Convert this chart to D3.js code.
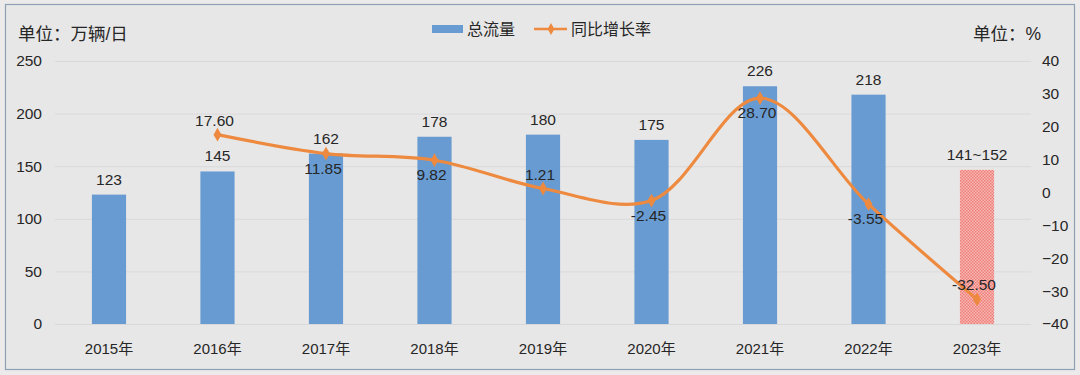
<!DOCTYPE html>
<html>
<head>
<meta charset="utf-8">
<script src="https://cdn.jsdelivr.net/npm/d3@7"></script>
<style>
  body { margin: 0; background: #eceaea; }
  text { font-family: "Liberation Sans", Arial, "Noto Sans CJK SC", sans-serif; fill: #262626; }
</style>
</head>
<body>
<script>
var years = ['2015年', '2016年', '2017年', '2018年', '2019年', '2020年', '2021年', '2022年', '2023年']
var flow = [123, 145, 162, 178, 180, 175, 226, 218, 146.5]
var flowLabels = ['123', '145', '162', '178', '180', '175', '226', '218', '141~152']
var growth = [null, 17.60, 11.85, 9.82, 1.21, -2.45, 28.70, -3.55, -32.50]
// label above (-1) or below (+1) the point
var growthPos = [0, -1, 1, 1, -1, 1, 1, 1, -1]
var leftTicks = [0, 50, 100, 150, 200, 250]
var rightTicks = [-40, -30, -20, -10, 0, 10, 20, 30, 40]

var W = 1080, H = 375
var plot = {left: 55, right: 1031, top: 61, bottom: 324}

var svg = d3.select('body').append('svg')
  .attr('width', W)
  .attr('height', H)

var defs = svg.append('defs')
var pat = defs.append('pattern')
  .attr('id', 'hatch')
  .attr('patternUnits', 'userSpaceOnUse')
  .attr('width', 3)
  .attr('height', 3)
pat.append('rect').attr('width', 3).attr('height', 3).attr('fill', '#f7b7b2')
pat.append('rect').attr('width', 1.5).attr('height', 1.5).attr('fill', '#ef7f7a')
pat.append('rect').attr('x', 1.5).attr('y', 1.5).attr('width', 1.5).attr('height', 1.5).attr('fill', '#ef7f7a')

svg.append('rect')
  .attr('x', 5.5).attr('y', 4.5)
  .attr('width', 1069).attr('height', 365)
  .attr('fill', '#e8e7e7')
  .attr('stroke', '#8ea0b6')
  .attr('stroke-width', 1.2)

var x = d3.scaleBand()
  .domain(years)
  .range([plot.left, plot.right])
  .paddingInner(0.685)
  .paddingOuter(0.34)

var y = d3.scaleLinear().domain([0, 250]).range([plot.bottom, plot.top])
var y2 = d3.scaleLinear().domain([-40, 40]).range([plot.bottom, plot.top])

// gridlines
svg.append('g')
  .selectAll('line')
  .data(leftTicks)
  .join('line')
  .attr('x1', plot.left).attr('x2', plot.right)
  .attr('y1', d => y(d) + 0.5).attr('y2', d => y(d) + 0.5)
  .attr('stroke', '#dad9d9')
  .attr('stroke-width', 1)

// left axis
var yAxis = svg.append('g')
  .attr('transform', 'translate(42,0)')
  .call(d3.axisLeft(y).tickValues(leftTicks).tickSize(0).tickPadding(0))
yAxis.select('.domain').remove()
yAxis.selectAll('text').style('font-size', '15.5px')

// right axis
var y2Axis = svg.append('g')
  .attr('transform', 'translate(1042,0)')
  .call(d3.axisRight(y2).tickValues(rightTicks).tickSize(0).tickPadding(0))
y2Axis.select('.domain').remove()
y2Axis.selectAll('text').style('font-size', '15.5px')

// x axis
var xAxis = svg.append('g')
  .attr('transform', 'translate(0,' + (plot.bottom + 19) + ')')
  .call(d3.axisBottom(x).tickSize(0).tickPadding(0))
xAxis.select('.domain').remove()
xAxis.selectAll('text').style('font-size', '15px')

// bars
svg.append('g')
  .selectAll('rect')
  .data(flow)
  .join('rect')
  .attr('x', (d, i) => x(years[i]))
  .attr('width', x.bandwidth())
  .attr('y', d => y(d))
  .attr('height', d => y(0) - y(d))
  .attr('fill', (d, i) => i === flow.length - 1 ? 'url(#hatch)' : '#689bd2')

svg.append('g')
  .selectAll('text')
  .data(flow)
  .join('text')
  .attr('x', (d, i) => x(years[i]) + x.bandwidth() / 2)
  .attr('y', d => y(d) - 10)
  .attr('text-anchor', 'middle')
  .style('font-size', '15.5px')
  .text((d, i) => flowLabels[i])

// growth line
var pts = growth.map((g, i) => ({i: i, v: g})).filter(d => d.v !== null)
var line = d3.line()
  .x(d => x(years[d.i]) + x.bandwidth() / 2)
  .y(d => y2(d.v))
  .curve(d3.curveCatmullRom.alpha(0.5))

svg.append('path')
  .datum(pts)
  .attr('d', line)
  .attr('fill', 'none')
  .attr('stroke', '#ed8a3f')
  .attr('stroke-width', 3.2)
  .attr('stroke-linejoin', 'round')

svg.append('g')
  .selectAll('path')
  .data(pts)
  .join('path')
  .attr('transform', d => 'translate(' + (x(years[d.i]) + x.bandwidth() / 2) + ',' + y2(d.v) + ')')
  .attr('d', d3.symbol(d3.symbolDiamond, 55))
  .attr('fill', '#ed8a3f')

svg.append('g')
  .selectAll('text')
  .data(pts)
  .join('text')
  .attr('x', d => x(years[d.i]) + x.bandwidth() / 2 - 3)
  .attr('y', d => y2(d.v) + (growthPos[d.i] < 0 ? -9 : 20))
  .attr('text-anchor', 'middle')
  .style('font-size', '15.5px')
  .text(d => d.v.toFixed(2))

// unit titles
svg.append('text')
  .attr('x', 18).attr('y', 40)
  .style('font-size', '17.5px')
  .text('单位：万辆/日')

svg.append('text')
  .attr('x', 973).attr('y', 40)
  .style('font-size', '17.5px')
  .text('单位：%')

// legend
var lg = svg.append('g')
lg.append('rect')
  .attr('x', 432).attr('y', 25)
  .attr('width', 31).attr('height', 8)
  .attr('fill', '#689bd2')
lg.append('text')
  .attr('x', 467).attr('y', 35)
  .style('font-size', '16px')
  .text('总流量')
lg.append('line')
  .attr('x1', 534).attr('x2', 567)
  .attr('y1', 29).attr('y2', 29)
  .attr('stroke', '#ed8a3f')
  .attr('stroke-width', 2.5)
lg.append('path')
  .attr('transform', 'translate(551,29)')
  .attr('d', d3.symbol(d3.symbolDiamond, 40))
  .attr('fill', '#ed8a3f')
lg.append('text')
  .attr('x', 571).attr('y', 35)
  .style('font-size', '16px')
  .text('同比增长率')
</script>
</body>
</html>
